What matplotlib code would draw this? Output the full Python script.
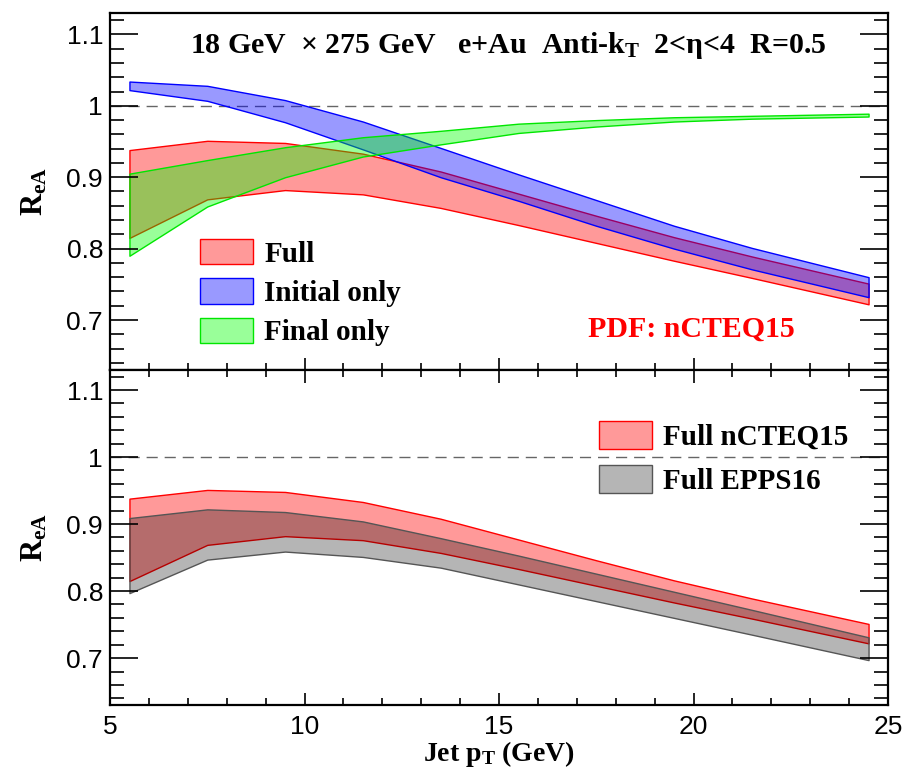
import matplotlib.pyplot as plt
from matplotlib.patches import Patch
from matplotlib.ticker import MultipleLocator, FuncFormatter

plt.rcParams['font.family'] = ['Liberation Sans', 'DejaVu Sans']
plt.rcParams['mathtext.fontset'] = 'custom'
plt.rcParams['mathtext.rm'] = 'Liberation Serif:bold'
plt.rcParams['mathtext.it'] = 'Liberation Serif:bold'
plt.rcParams['mathtext.bf'] = 'Liberation Serif:bold'

# jet pT points
pt = [5.5, 7.5, 9.5, 11.5, 13.5, 15.5, 17.5, 19.5, 21.5, 24.5]

# Full (nCTEQ15)
full_hi = [0.938, 0.951, 0.948, 0.933, 0.908, 0.877, 0.846, 0.816, 0.789, 0.751]
full_lo = [0.815, 0.869, 0.882, 0.876, 0.857, 0.833, 0.808, 0.783, 0.759, 0.722]
# Initial only
init_hi = [1.034, 1.028, 1.008, 0.978, 0.941, 0.904, 0.868, 0.832, 0.801, 0.760]
init_lo = [1.022, 1.007, 0.977, 0.939, 0.900, 0.867, 0.832, 0.800, 0.771, 0.732]
# Final only
fin_hi = [0.905, 0.924, 0.942, 0.956, 0.965, 0.975, 0.980, 0.984, 0.986, 0.989]
fin_lo = [0.790, 0.859, 0.900, 0.929, 0.946, 0.962, 0.971, 0.978, 0.982, 0.985]
# Full EPPS16
epps_hi = [0.909, 0.922, 0.918, 0.904, 0.879, 0.853, 0.826, 0.799, 0.772, 0.731]
epps_lo = [0.797, 0.847, 0.859, 0.851, 0.835, 0.810, 0.785, 0.760, 0.735, 0.697]

serif = dict(family='Liberation Serif', weight='bold')

fig = plt.figure(figsize=(9.06, 7.72), dpi=100)
ax1 = fig.add_axes([110/906, 1-370/772, 778/906, 357/772])
ax2 = fig.add_axes([110/906, 1-705/772, 778/906, 335/772])

# top pad
ax1.fill_between(pt, full_lo, full_hi, facecolor=(1, 0, 0, 0.4), edgecolor='red', lw=1)
ax1.fill_between(pt, init_lo, init_hi, facecolor=(0, 0, 1, 0.4), edgecolor='blue', lw=1)
ax1.fill_between(pt, fin_lo, fin_hi, facecolor=(0, 1, 0, 0.4), edgecolor=(0, 0.9, 0), lw=1)

# bottom pad
ax2.fill_between(pt, full_lo, full_hi, facecolor=(1, 0, 0, 0.4), edgecolor='red', lw=1)
ax2.fill_between(pt, epps_lo, epps_hi, facecolor=(0, 0, 0, 0.29), edgecolor='#555555', lw=1)

for ax in (ax1, ax2):
    ax.axhline(1.0, color='#666666', lw=1, ls=(0, (8, 5)), zorder=0)
    ax.set_xlim(5, 25)
    ax.set_ylim(0.63, 1.13)
    ax.xaxis.set_major_locator(MultipleLocator(5))
    ax.xaxis.set_minor_locator(MultipleLocator(1))
    ax.yaxis.set_major_locator(MultipleLocator(0.1))
    ax.yaxis.set_minor_locator(MultipleLocator(0.02))
    ax.yaxis.set_major_formatter(FuncFormatter(lambda v, p: '%g' % round(v, 2)))
    for s in ax.spines.values():
        s.set_linewidth(1.6)
    ax.tick_params(axis='y', which='major', direction='in', length=20, width=1.2,
                   left=True, right=True, labelsize=19, pad=5)
    ax.tick_params(axis='y', which='minor', direction='in', length=10, width=1.2,
                   left=True, right=True)
    ax.tick_params(axis='x', which='major', direction='in', length=9, width=1.2,
                   labelsize=19, pad=7)
    ax.tick_params(axis='x', which='minor', direction='in', length=5, width=1.2)
    ax.set_ylabel(r'R$_{\mathrm{eA}}$', fontsize=22, labelpad=12, **serif)

ax1.tick_params(axis='x', which='both', top=False, bottom=True, labelbottom=False)
ax2.tick_params(axis='x', which='both', top=True, bottom=True)

ax2.set_xlabel(r'Jet p$_{\mathrm{T}}$ (GeV)', fontsize=20, labelpad=0, **serif)

# annotations
fig.text(190/906, 1-53/772, r'18 GeV  $\times$ 275 GeV   e+Au  Anti-k$_{\mathrm{T}}$  2<η<4  R=0.5',
         fontsize=21.5, ha='left', va='baseline', **serif)
fig.text(588/906, 1-337/772, 'PDF: nCTEQ15', color='red', fontsize=21.5,
         ha='left', va='baseline', **serif)

leg_kw = dict(frameon=False, handlelength=1.8, handletextpad=0.4,
              borderpad=0, borderaxespad=0, loc='upper left',
              bbox_transform=fig.transFigure)

h1 = [Patch(facecolor=(1, 0, 0, 0.4), edgecolor='red', label='Full'),
      Patch(facecolor=(0, 0, 1, 0.4), edgecolor='blue', label='Initial only'),
      Patch(facecolor=(0, 1, 0, 0.4), edgecolor=(0, 0.9, 0), label='Final only')]
ax1.legend(handles=h1, bbox_to_anchor=(200/906, 1-239/772), prop=dict(size=21, **serif),
           handleheight=0.95, labelspacing=0.37, **leg_kw)

h2 = [Patch(facecolor=(1, 0, 0, 0.4), edgecolor='red', label='Full nCTEQ15'),
      Patch(facecolor=(0, 0, 0, 0.29), edgecolor='#555555', label='Full EPPS16')]
ax2.legend(handles=h2, bbox_to_anchor=(599/906, 1-421/772), prop=dict(size=21, **serif),
           handleheight=1.08, labelspacing=0.5, **leg_kw)

fig.savefig('out.png', dpi=100)
